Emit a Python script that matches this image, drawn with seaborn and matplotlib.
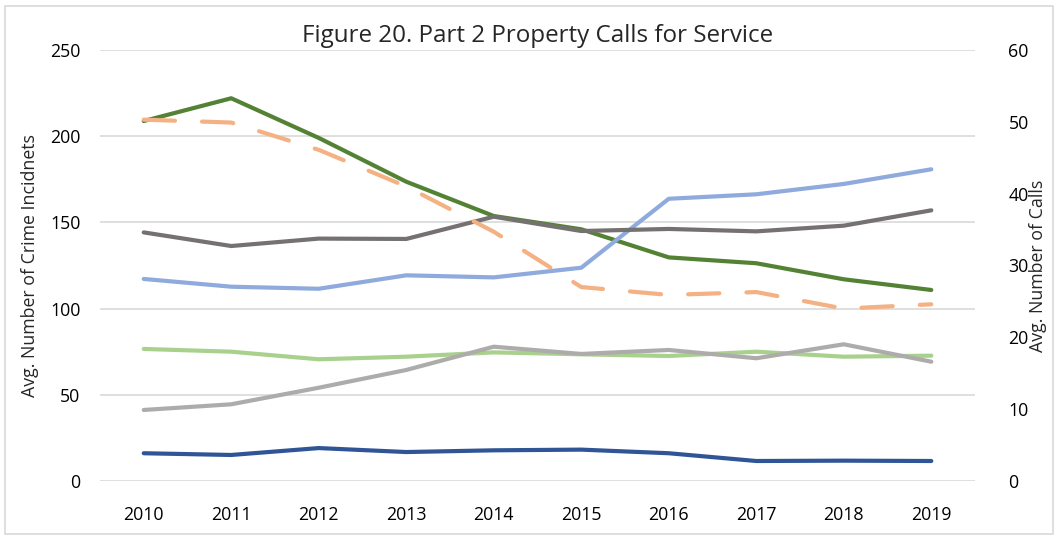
import pandas as pd
import matplotlib.pyplot as plt
import seaborn as sns
from matplotlib.patches import Rectangle

years = [2010, 2011, 2012, 2013, 2014, 2015, 2016, 2017, 2018, 2019]

# left axis: avg. number of crime incidents
burglary = [208.8, 222.0, 199.0, 173.6, 153.7, 146.0, 129.7, 126.3, 117.0, 110.8]
larceny = [117.2, 112.7, 111.5, 119.3, 118.1, 123.7, 163.7, 166.3, 172.3, 180.8]
vandalism = [144.2, 136.3, 140.6, 140.4, 153.3, 145.0, 146.2, 144.8, 148.1, 157.0]
auto_theft = [76.6, 75.0, 70.6, 72.1, 74.6, 73.5, 72.5, 75.0, 72.1, 72.7]
fraud = [41.2, 44.5, 54.1, 64.4, 77.9, 73.7, 76.0, 71.2, 79.3, 69.2]
stolen_property = [16.1, 15.1, 19.1, 16.8, 17.8, 18.2, 16.1, 11.6, 11.8, 11.6]

# right axis: avg. number of calls
calls = [50.3, 49.9, 46.1, 41.0, 34.7, 27.0, 25.9, 26.3, 24.0, 24.6]

left_series = [
    ('Burglary', burglary, '#548235'),
    ('Larceny', larceny, '#8FAADC'),
    ('Vandalism', vandalism, '#767171'),
    ('Auto Theft', auto_theft, '#A9D18E'),
    ('Fraud', fraud, '#AEABAB'),
    ('Stolen Property', stolen_property, '#2F5597'),
]

sns.set_theme(style="white")
plt.rcParams['font.family'] = ['Open Sans', 'DejaVu Sans']

fig = plt.figure(figsize=(10.58, 5.41), dpi=100)
ax = fig.add_axes([0.0945, 0.1109, 0.8271, 0.7967])
ax2 = ax.twinx()

for name, vals, color in left_series:
    df = pd.DataFrame({'Year': years, 'Value': vals})
    sns.lineplot(data=df, x='Year', y='Value', ax=ax, color=color, lw=3.0,
                 solid_capstyle='round', label=name, legend=False)

df_calls = pd.DataFrame({'Year': years, 'Value': calls})
sns.lineplot(data=df_calls, x='Year', y='Value', ax=ax2, color='#F4B183', lw=3.0,
             legend=False)
ax2.lines[0].set_dashes([7.5, 6.5])
ax2.lines[0].set_dash_capstyle('round')

ax.set_xlim(2009.5, 2019.5)
ax.set_ylim(0, 250)
ax2.set_ylim(0, 60)
ax.set_xticks(years)
ax.set_xticklabels([str(y) for y in years])
ax.set_yticks([0, 50, 100, 150, 200, 250])
ax2.set_yticks([0, 10, 20, 30, 40, 50, 60])

ax.grid(axis='y', color='#D9D9D9', lw=1.2)
ax.set_axisbelow(True)
for a in (ax, ax2):
    for s in a.spines.values():
        s.set_visible(False)
    a.tick_params(length=0, labelsize=12.8, colors='#000000')
ax.tick_params(axis='x', pad=18)
ax.tick_params(axis='y', pad=14)
ax2.tick_params(axis='y', pad=24)

ax.set_xlabel('')
ax.set_ylabel('Avg. Number of Crime Incidnets', fontsize=12.8, labelpad=8)
ax2.set_ylabel('Avg. Number of Calls', fontsize=12.8, labelpad=0)
ax.set_title('Figure 20. Part 2 Property Calls for Service', fontsize=17.4, pad=6)

fig.patches.append(Rectangle((0.005, 0.013), 0.99, 0.976, transform=fig.transFigure,
                             fill=False, edgecolor='#D9D9D9', lw=1.2))

fig.savefig('out.png', dpi=100)
